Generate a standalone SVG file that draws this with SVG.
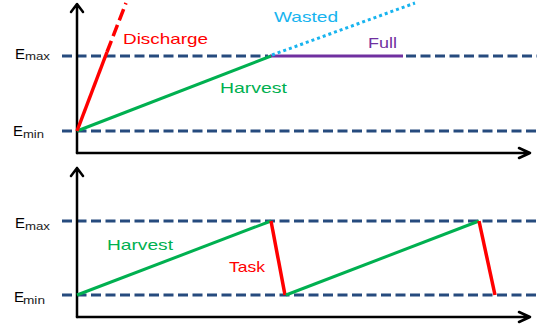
<svg xmlns="http://www.w3.org/2000/svg" width="537" height="324" viewBox="0 0 537 324">
<style>
.ax{fill:none;stroke:#000;stroke-width:2.5;stroke-linecap:round;stroke-linejoin:round}
.lvl{stroke:#264b7e;stroke-width:3;stroke-dasharray:10 4.5}
.grn{stroke:#00b050;stroke-width:3;fill:none}
.red{stroke:#ff0000;stroke-width:3.5;fill:none}
.pur{stroke:#7030a0;stroke-width:3.2}
.wst{stroke:#18b4ef;stroke-width:3;stroke-dasharray:3 3}
text{font-family:"Liberation Sans",Arial,sans-serif;font-size:15px}
.lbl{font-size:15px;fill:#000}
.sub{font-size:10px;fill:#222}
</style>
<rect width="537" height="324" fill="#fff"/>
<g id="top-panel">
  <g id="top-levels">
    <line class="lvl" x1="62" y1="56" x2="268" y2="56"/>
    <line class="lvl" x1="406" y1="56" x2="537" y2="56"/>
    <line class="lvl" x1="62" y1="131" x2="537" y2="131"/>
  </g>
  <g id="top-axes">
    <path class="ax" d="M77,153 V5 M71,12 L77,4 L83,12"/>
    <path class="ax" d="M77,153 H530 M519,148 L530,153 L519,158"/>
  </g>
  <g id="top-curves">
    <line class="pur" x1="270" y1="56" x2="403" y2="56"/>
    <line class="wst" x1="272" y1="55" x2="415" y2="3"/>
    <line class="grn" x1="77" y1="131" x2="271" y2="56"/>
    <line class="red" x1="77" y1="131" x2="107" y2="52"/>
    <line class="red" x1="107" y1="52" x2="126" y2="3" stroke-dasharray="12 5"/>
  </g>
  <g id="top-labels">
    <text x="15" y="59" class="lbl">E</text>
    <text x="25" y="60" class="sub" textLength="25" lengthAdjust="spacingAndGlyphs">max</text>
    <text x="13" y="136" class="lbl">E</text>
    <text x="23" y="138" class="sub" textLength="21" lengthAdjust="spacingAndGlyphs">min</text>
    <text x="123" y="43.5" fill="#ff0000" textLength="85" lengthAdjust="spacingAndGlyphs">Discharge</text>
    <text x="274" y="22" fill="#18b4ef" textLength="64" lengthAdjust="spacingAndGlyphs">Wasted</text>
    <text x="368" y="48" fill="#7030a0" textLength="29" lengthAdjust="spacingAndGlyphs">Full</text>
    <text x="220" y="92.5" fill="#00b050" textLength="67" lengthAdjust="spacingAndGlyphs">Harvest</text>
  </g>
</g>
<g id="bottom-panel">
  <g id="bottom-levels">
    <line class="lvl" x1="62" y1="221" x2="537" y2="221"/>
    <line class="lvl" x1="62" y1="295" x2="537" y2="295"/>
  </g>
  <g id="bottom-axes">
    <path class="ax" d="M77,317 V168 M71,176 L77,168 L83,176"/>
    <path class="ax" d="M77,317 H530 M519,312 L530,317 L519,322"/>
  </g>
  <g id="bottom-curves">
    <line class="grn" x1="77" y1="295" x2="271" y2="221"/>
    <line class="red" x1="271" y1="221" x2="285" y2="295"/>
    <line class="grn" x1="286" y1="295" x2="479" y2="221"/>
    <line class="red" x1="479" y1="221" x2="495" y2="295"/>
  </g>
  <g id="bottom-labels">
    <text x="15" y="228" class="lbl">E</text>
    <text x="25" y="230" class="sub" textLength="25" lengthAdjust="spacingAndGlyphs">max</text>
    <text x="14" y="302" class="lbl">E</text>
    <text x="23" y="304" class="sub" textLength="22" lengthAdjust="spacingAndGlyphs">min</text>
    <text x="107" y="250" fill="#00b050" textLength="66" lengthAdjust="spacingAndGlyphs">Harvest</text>
    <text x="229" y="272" fill="#ff0000" textLength="36" lengthAdjust="spacingAndGlyphs">Task</text>
  </g>
</g>
</svg>
